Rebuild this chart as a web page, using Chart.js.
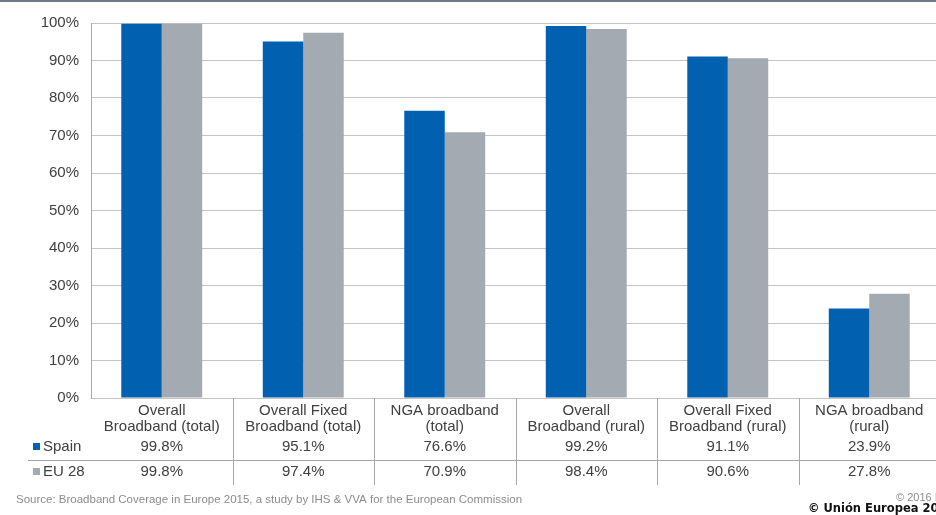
<!DOCTYPE html>
<html>
<head>
<meta charset="utf-8">
<script src="https://cdn.jsdelivr.net/npm/chart.js@4"></script>
<style>
html,body{margin:0;padding:0;background:#fff;overflow:hidden;width:936px;height:515px;}
#wrap{position:relative;width:940px;height:515px;}
</style>
</head>
<body>
<div id="wrap"><canvas id="c" width="940" height="515"></canvas></div>
<script>
const categories = [
  ["Overall", "Broadband (total)"],
  ["Overall Fixed", "Broadband (total)"],
  ["NGA broadband", "(total)"],
  ["Overall", "Broadband (rural)"],
  ["Overall Fixed", "Broadband (rural)"],
  ["NGA broadband", "(rural)"]
];
const seriesNames = ["Spain", "EU 28"];
const spainValues = [99.8, 95.1, 76.6, 99.2, 91.1, 23.9];
const eu28Values = [99.8, 97.4, 70.9, 98.4, 90.6, 27.8];
const yTicks = [0, 10, 20, 30, 40, 50, 60, 70, 80, 90, 100];
const sourceText = "Source: Broadband Coverage in Europe 2015, a study by IHS & VVA for the European Commission";

const BLUE = "#0160b0";
const GREY = "#a3aab1";
const TXT = "#404040";
const FONT = "'Liberation Sans', Arial, sans-serif";

const tablePlugin = {
  id: "tablePlugin",
  afterDraw(chart) {
    const ctx = chart.ctx;
    const x = chart.scales.x;
    const ca = chart.chartArea;
    const n = categories.length;
    const catW = (ca.right - ca.left) / n;
    ctx.save();
    // top border
    ctx.fillStyle = "#6f7a87";
    ctx.fillRect(0, 0, chart.width, 2);
    // vertical dividers
    ctx.strokeStyle = "#a6a6a6";
    ctx.lineWidth = 1;
    for (let i = 1; i < n; i++) {
      const px = Math.round(ca.left + catW * i) + 0.5;
      ctx.beginPath();
      ctx.moveTo(px, ca.bottom);
      ctx.lineTo(px, ca.bottom + 87);
      ctx.stroke();
    }
    // horizontal divider between rows
    ctx.beginPath();
    ctx.moveTo(28, ca.bottom + 62.5);
    ctx.lineTo(chart.width, ca.bottom + 62.5);
    ctx.stroke();
    // category labels
    ctx.fillStyle = TXT;
    ctx.font = "15px " + FONT;
    ctx.textAlign = "center";
    ctx.textBaseline = "middle";
    for (let i = 0; i < n; i++) {
      const cx = x.getPixelForValue(i);
      ctx.fillText(categories[i][0], cx, ca.bottom + 13);
      ctx.fillText(categories[i][1], cx, ca.bottom + 29);
      ctx.fillText(spainValues[i].toFixed(1) + "%", cx, ca.bottom + 49);
      ctx.fillText(eu28Values[i].toFixed(1) + "%", cx, ca.bottom + 74);
    }
    // row headers with legend markers
    ctx.textAlign = "left";
    ctx.fillStyle = BLUE;
    ctx.fillRect(33, ca.bottom + 45, 7, 7);
    ctx.fillStyle = GREY;
    ctx.fillRect(33, ca.bottom + 70, 7, 7);
    ctx.fillStyle = TXT;
    ctx.fillText(seriesNames[0], 43, ca.bottom + 49);
    ctx.fillText(seriesNames[1], 43, ca.bottom + 74);
    // source
    ctx.font = "11.5px " + FONT;
    ctx.fillStyle = "#8c8c8c";
    ctx.fillText(sourceText, 16, 500);
    ctx.font = "11px " + FONT;
    ctx.fillText("© 2016 I", 896, 498);
    ctx.font = "bold 11.5px 'DejaVu Sans', sans-serif";
    ctx.fillStyle = "#111";
    ctx.fillText("© Unión Europea 2016", 808, 509);
    ctx.restore();
  }
};

new Chart(document.getElementById("c"), {
  type: "bar",
  data: {
    labels: categories.map(c => c.join(" ")),
    datasets: [
      { label: seriesNames[0], data: spainValues, backgroundColor: BLUE, categoryPercentage: 0.572, barPercentage: 1.0 },
      { label: seriesNames[1], data: eu28Values, backgroundColor: GREY, categoryPercentage: 0.572, barPercentage: 1.0 }
    ]
  },
  options: {
    responsive: false,
    animation: false,
    layout: { padding: { top: 23, bottom: 117, left: 0, right: 0 } },
    plugins: { legend: { display: false }, tooltip: { enabled: false } },
    scales: {
      x: {
        display: false,
        grid: { display: false }
      },
      y: {
        min: 0,
        max: 100,
        afterBuildTicks(s) { s.ticks = yTicks.map(v => ({ value: v })); },
        afterFit(s) { s.width = 91; },
        ticks: {
          color: TXT,
          font: { family: FONT, size: 15 },
          padding: 12,
          callback: v => v + "%"
        },
        grid: { color: "#c4c4c4", lineWidth: 1, drawTicks: false },
        border: { color: "#a8a8a8", width: 1 }
      }
    }
  },
  plugins: [tablePlugin]
});
</script>
</body>
</html>
